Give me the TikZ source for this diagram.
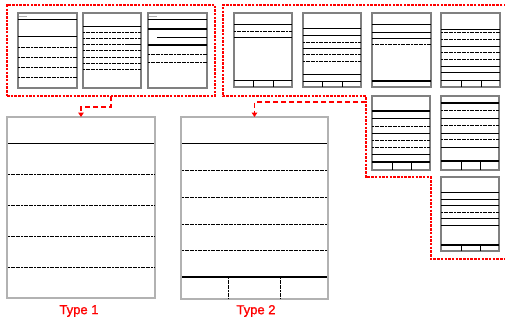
\documentclass[tikz,border=0pt]{standalone}
\usepackage{fontspec}
\setmainfont{Liberation Sans}
\newfontfamily\labfont[FakeBold=1.2]{Liberation Sans}
\usetikzlibrary{arrows.meta}
\begin{document}
\begin{tikzpicture}[x=1pt,y=-1pt,
 thumb/.style={draw=black!50, line width=1.3pt, inner sep=0, outer sep=0, anchor=north west},
 bigbox/.style={draw=black!30, line width=1.6pt, inner sep=0, outer sep=0, anchor=north west},
 sl/.style={black, line width=0.9pt},
 tl/.style={black, line width=1.4pt},
 dl/.style={black, line width=0.9pt, dash pattern=on 2pt off 0.6pt},
 gl/.style={black!30, line width=0.8pt},
 redout/.style={red, line width=1.1pt, dash pattern=on 2.5pt off 1.2pt},
 redarrow/.style={red, line width=1.8pt, dash pattern=on 5pt off 3pt, -{Triangle[length=4.5pt,width=5.5pt]}},
 lab/.style={text=red, font=\labfont\fontsize{13}{13}\selectfont}]
\useasboundingbox (0,0) rectangle (505,322);
\newcommand\hl[4]{\draw[#4] (#1,#3) -- (#2,#3);}
\newcommand\vl[4]{\draw[#4] (#1,#2) -- (#1,#3);}
% red outlines
\node[draw, redout, minimum width=208pt, minimum height=91pt, inner sep=0, outer sep=0, anchor=north west] (lbox) at (7,5) {};
\draw[redout] (506,5) -- (223,5) -- (223,96) -- (366,96) -- (366,177) -- (431,177) -- (431,259) -- (506,259);
\coordinate (rstart) at (366,102);
% left thumbnails
\node[thumb, minimum width=59pt, minimum height=75pt] (t1) at (18,13) {};
\hl{19}{27}{16}{gl}
\hl{18}{77}{19}{sl} \hl{18}{77}{36}{sl}
\hl{18}{77}{47}{dl} \hl{18}{77}{57}{dl} \hl{18}{77}{67}{dl} \hl{18}{77}{77}{dl}
\node[thumb, minimum width=58pt, minimum height=75pt] (t2) at (83,13) {};
\hl{83}{141}{26}{sl} \hl{83}{141}{32}{dl} \hl{83}{141}{38}{dl}
\hl{83}{125}{44}{dl} \hl{125}{141}{44}{sl}
\hl{83}{141}{50}{dl} \hl{83}{141}{57}{dl} \hl{83}{141}{63}{dl} \hl{83}{141}{69}{dl}
\node[thumb, minimum width=59pt, minimum height=75pt] (t3) at (148,13) {};
\hl{149}{157}{16}{gl}
\hl{148}{207}{19}{sl} \hl{148}{207}{29}{tl} \hl{157}{207}{37}{sl}
\hl{148}{207}{45}{tl} \hl{148}{207}{54}{dl} \hl{148}{207}{62}{dl}
% right thumbnails
\node[thumb, minimum width=58pt, minimum height=74pt] (r1) at (234,13) {};
\hl{234}{292}{24}{sl} \hl{234}{292}{31}{dl} \hl{234}{292}{37}{sl}
\hl{234}{292}{80}{sl} \vl{253}{80}{87}{sl} \vl{273}{80}{87}{sl}
\node[thumb, minimum width=58pt, minimum height=74pt] (r2) at (303,13) {};
\hl{303}{361}{28}{sl} \hl{303}{361}{35}{sl} \hl{303}{361}{42}{dl}
\hl{303}{361}{48}{sl} \hl{303}{361}{54}{dl} \hl{303}{361}{61}{dl}
\hl{303}{361}{74}{sl} \hl{303}{361}{81}{sl} \vl{322}{81}{87}{sl} \vl{342}{81}{87}{sl}
\node[thumb, minimum width=59pt, minimum height=74pt] (r3) at (372,13) {};
\hl{372}{431}{24}{sl} \hl{372}{431}{32}{sl} \hl{372}{431}{38}{sl} \hl{372}{431}{44}{dl}
\hl{372}{431}{81}{tl}
\node[thumb, minimum width=59pt, minimum height=74pt] (r4) at (441,13) {};
\hl{441}{500}{29}{sl} \hl{441}{500}{32}{dl} \hl{441}{500}{39}{dl} \hl{441}{500}{46}{sl}
\hl{441}{500}{52}{dl} \hl{441}{500}{59}{dl} \hl{441}{500}{66}{sl} \hl{441}{500}{72}{sl}
\hl{441}{500}{80}{sl} \vl{461}{80}{87}{sl} \vl{481}{80}{87}{sl}
\node[thumb, minimum width=58pt, minimum height=74pt] (r5) at (372,96) {};
\hl{372}{430}{111}{tl} \hl{372}{430}{118}{sl} \hl{372}{430}{126}{dl} \hl{372}{430}{133}{sl}
\hl{372}{430}{140}{dl} \hl{372}{430}{147}{dl} \hl{372}{430}{154}{sl}
\hl{372}{430}{162}{tl} \vl{392}{162}{170}{sl} \vl{411}{162}{170}{sl}
\node[thumb, minimum width=58pt, minimum height=74pt] (r6) at (441,96) {};
\hl{441}{499}{103}{tl} \hl{441}{499}{110}{dl} \hl{441}{499}{118}{sl} \hl{441}{499}{125}{dl}
\hl{441}{499}{133}{sl} \hl{441}{499}{139}{dl} \hl{441}{499}{147}{sl}
\hl{441}{499}{161}{tl} \vl{461}{161}{170}{sl} \vl{480}{161}{170}{sl}
\node[thumb, minimum width=58pt, minimum height=74pt] (r7) at (441,177) {};
\hl{441}{499}{192}{sl} \hl{441}{499}{199}{sl} \hl{441}{499}{205}{sl} \hl{441}{499}{212}{dl}
\hl{441}{499}{218}{sl} \hl{441}{499}{225}{sl}
\hl{441}{499}{245}{tl} \vl{461}{245}{251}{sl} \vl{480}{245}{251}{sl}
% big boxes
\node[bigbox, minimum width=148pt, minimum height=181pt] (type1) at (7,117) {};
\hl{8}{154}{143}{sl} \hl{8}{154}{174}{dl} \hl{8}{154}{205}{dl} \hl{8}{154}{236}{dl} \hl{8}{154}{267}{dl}
\node[bigbox, minimum width=147pt, minimum height=182pt] (type2) at (181,117) {};
\hl{182}{327}{143}{sl} \hl{182}{327}{170}{dl} \hl{182}{327}{197}{dl} \hl{182}{327}{224}{dl} \hl{182}{327}{250}{dl}
\hl{182}{327}{277}{tl} \vl{228}{277}{298}{dl} \vl{280}{277}{298}{dl}
% arrows
\draw[redarrow] (lbox.south) -- ++(0,11) -| (type1.north);
\draw[redarrow] (rstart) -| (type2.north);
% labels
\node[lab] (l1) at (79,311) {Type 1};
\node[lab] (l2) at (256,311) {Type 2};
\end{tikzpicture}
\end{document}
